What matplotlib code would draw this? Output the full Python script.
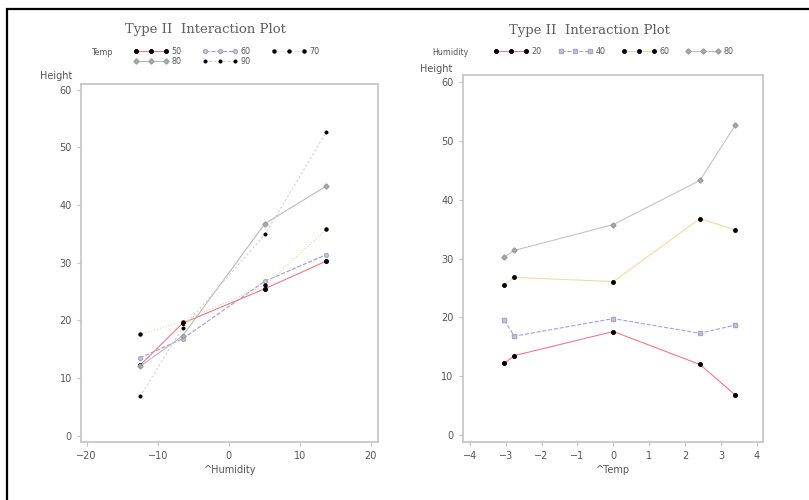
import numpy as np
import matplotlib
matplotlib.use('Agg')
import matplotlib.pyplot as plt
from matplotlib.lines import Line2D
from matplotlib.patches import Rectangle

# transformed factor levels
humidity_x = [-12.5, -6.5, 5.1, 13.75]
temp_x = [-3.04, -2.76, 0.0, 2.41, 3.40]

humidity_levels = ['20', '40', '60', '80']
temp_levels = ['50', '60', '70', '80', '90']

# Height[temp][humidity]
height_t50 = [12.2, 19.5, 25.5, 30.3]
height_t60 = [13.5, 16.8, 26.8, 31.4]
height_t70 = [17.6, 19.8, 26.1, 35.8]
height_t80 = [12.0, 17.3, 36.8, 43.3]
height_t90 = [6.8, 18.7, 34.9, 52.7]

by_temp = [height_t50, height_t60, height_t70, height_t80, height_t90]
by_humidity = [list(v) for v in zip(*by_temp)]

# styles per level
temp_styles = [
    dict(color='#ec7888', ls='-', marker='o', mfc='black', mec='black', ms=2.6),
    dict(color='#9898ec', ls='--', marker='o', mfc='#d0d0dc', mec='#a8a8c0', ms=2.8),
    dict(color='#f6d0a0', ls=':', marker='o', mfc='black', mec='black', ms=2.2),
    dict(color='#b8bcb8', ls='-', marker='D', mfc='#a8b0a8', mec='#98a098', ms=2.6),
    dict(color='#ccd4cc', ls=(0, (2, 2)), marker='o', mfc='black', mec='black', ms=1.9),
]
hum_styles = [
    dict(color='#f07888', ls='-', marker='o', mfc='black', mec='black', ms=2.6),
    dict(color='#a0a0ec', ls='--', marker='s', mfc='#c8c8d4', mec='#a8a8c0', ms=2.4),
    dict(color='#f6d8a8', ls='-', marker='o', mfc='black', mec='black', ms=2.5),
    dict(color='#c4c4c4', ls='-', marker='D', mfc='#acacac', mec='#9c9c9c', ms=2.6),
]

grey = '#555555'
frame = '#c4c4c4'

fig = plt.figure(figsize=(8.09, 5.0), dpi=100)

# outer border
fig.patches.append(Rectangle((7/809, -0.1), 2.0, 1.1 - 9/500, transform=fig.transFigure,
                             fill=False, ec='black', lw=1.6))

def style_axes(ax):
    for s in ax.spines.values():
        s.set_color(frame)
        s.set_linewidth(1.2)
    ax.tick_params(colors=frame, labelcolor=grey, labelsize=7, length=3, width=0.8)

# left plot: Height vs ^Humidity, one line per Temp
ax1 = fig.add_axes([81/809, 1 - 442/500, (378 - 81)/809, (442 - 84)/500])
for vals, st in zip(by_temp, temp_styles):
    ax1.plot(humidity_x, vals, lw=0.8, **st)
ax1.set_xlim(-20.8, 21.0)
ax1.set_ylim(-1.1, 61.0)
ax1.set_xticks([-20, -10, 0, 10, 20])
ax1.set_yticks([0, 10, 20, 30, 40, 50, 60])
style_axes(ax1)

# right plot: Height vs ^Temp, one line per Humidity
ax2 = fig.add_axes([462.7/809, 1 - 442/500, (763.3 - 462.7)/809, (442 - 74.7)/500])
for vals, st in zip(by_humidity, hum_styles):
    ax2.plot(temp_x, vals, lw=0.8, **st)
ax2.set_xlim(-4.2, 4.18)
ax2.set_ylim(-1.2, 61.3)
ax2.set_xticks([-4, -3, -2, -1, 0, 1, 2, 3, 4])
ax2.set_yticks([0, 10, 20, 30, 40, 50, 60])
style_axes(ax2)

# titles / labels
title_kw = dict(family='DejaVu Serif', fontsize=9.5, color='#606060', ha='center', va='center')
fig.text(205/809, 1 - 29.5/500, 'Type II  Interaction Plot', **title_kw)
fig.text(589/809, 1 - 30.5/500, 'Type II  Interaction Plot', **title_kw)

lab_kw = dict(fontsize=7, color=grey, va='center')
fig.text(40/809, 1 - 76/500, 'Height', ha='left', **lab_kw)
fig.text(420/809, 1 - 69/500, 'Height', ha='left', **lab_kw)
fig.text(230/809, 1 - 470/500, '^Humidity', ha='center', **lab_kw)
fig.text(613/809, 1 - 470/500, '^Temp', ha='center', **lab_kw)

# legends
leg_kw = dict(fontsize=5.8, frameon=False, numpoints=3, handlelength=4.3,
              handletextpad=0.4, labelspacing=0.1,
              borderpad=0, borderaxespad=0, labelcolor=grey)

def handle(st):
    return Line2D([], [], lw=0.8, **st)

fig.text(91/809, 1 - 52.5/500, 'Temp', fontsize=5.8, color=grey, va='center', ha='left')
order = [0, 3, 1, 4, 2]
fig.legend([handle(temp_styles[i]) for i in order], [temp_levels[i] for i in order],
           ncol=3, loc='upper left', bbox_to_anchor=(134/809, 1 - 47/500),
           columnspacing=2.6, **leg_kw)

fig.text(432/809, 1 - 52.5/500, 'Humidity', fontsize=5.8, color=grey, va='center', ha='left')
fig.legend([handle(s) for s in hum_styles], humidity_levels,
           ncol=4, loc='upper left', bbox_to_anchor=(494/809, 1 - 47/500),
           columnspacing=2.0, **leg_kw)

fig.savefig('out.png', dpi=100)
